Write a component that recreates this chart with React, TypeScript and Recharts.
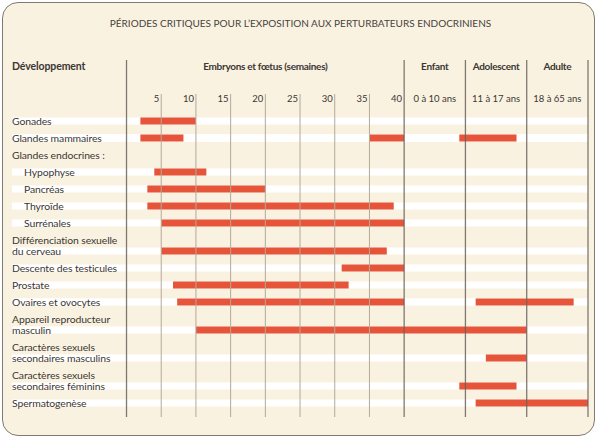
import { BarChart, Bar, XAxis, YAxis, ReferenceLine } from 'recharts'

const TITRE = 'PÉRIODES CRITIQUES POUR L’EXPOSITION AUX PERTURBATEURS ENDOCRINIENS'

// libellés des lignes (\n = retour à la ligne dans le libellé)
const organes = [
  'Gonades',
  'Glandes mammaires',
  'Glandes endocrines :',
  'Hypophyse',
  'Pancréas',
  'Thyroïde',
  'Surrénales',
  'Différenciation sexuelle\ndu cerveau',
  'Descente des testicules',
  'Prostate',
  'Ovaires et ovocytes',
  'Appareil reproducteur\nmasculin',
  'Caractères sexuels\nsecondaires masculins',
  'Caractères sexuels\nsecondaires féminins',
  'Spermatogenèse',
]
const sousRubriques = ['Hypophyse', 'Pancréas', 'Thyroïde', 'Surrénales']

const semaines = [5, 10, 15, 20, 25, 30, 35, 40]

const periodes = ['Enfant', 'Adolescent', 'Adulte']
const periodesAges = ['0 à 10 ans', '11 à 17 ans', '18 à 65 ans']
const periodesBornes: [number, number][] = [[0, 10], [11, 17], [18, 65]]

// [organe, début, fin] ; 's' = semaines de grossesse, sinon âge en années dans la période
type Point = [string, number]
const segments: [string, Point, Point][] = [
  ['Gonades', ['s', 2], ['s', 10]],
  ['Glandes mammaires', ['s', 2], ['s', 8.2]],
  ['Glandes mammaires', ['s', 35], ['s', 40]],
  ['Glandes mammaires', ['Enfant', 9], ['Adolescent', 16]],
  ['Hypophyse', ['s', 4], ['s', 11.5]],
  ['Pancréas', ['s', 3], ['s', 20]],
  ['Thyroïde', ['s', 3], ['s', 38.5]],
  ['Surrénales', ['s', 5], ['s', 40]],
  ['Différenciation sexuelle\ndu cerveau', ['s', 5], ['s', 37.5]],
  ['Descente des testicules', ['s', 31], ['s', 40]],
  ['Prostate', ['s', 6.7], ['s', 32]],
  ['Ovaires et ovocytes', ['s', 7.3], ['s', 40]],
  ['Ovaires et ovocytes', ['Adolescent', 12], ['Adulte', 54]],
  ['Appareil reproducteur\nmasculin', ['s', 10], ['Adolescent', 17]],
  ['Caractères sexuels\nsecondaires masculins', ['Adolescent', 13], ['Adolescent', 17]],
  ['Caractères sexuels\nsecondaires féminins', ['Enfant', 9], ['Adolescent', 16]],
  ['Spermatogenèse', ['Adolescent', 12], ['Adulte', 65]],
]

const BEIGE = '#FAF2E1'
const ORANGE = '#E6553A'
const TEXTE = '#3b3733'
const TRAIT = '#6a635a'
const GRILLE = '#b3a999'
const FONT = 'Lato, "Open Sans", sans-serif'

// axe horizontal : 0-40 = semaines, puis trois colonnes de largeur égale
const COL = 8.83
const X_MIN = -16.5
const X_MAX = 40 + 3 * COL
// axe vertical : 1 = une ligne de tableau, LIGNE = ligne de texte supplémentaire
const LIGNE = 11 / 17
const Y_HAUT = -3.59
const Y_BAS = 17.41
const Y_GRILLE = -1.59

const toAxis = ([periode, v]: Point) => {
  if (periode === 's') return v
  const i = periodes.indexOf(periode)
  const [a, b] = periodesBornes[i]
  return 40 + i * COL + ((v - a) / (b - a)) * COL
}

let cumul = 0
const lignes = organes.map((label, i) => {
  const n = label.split('\n').length
  if (i > 0) cumul += 1 + (n - 1) * LIGNE
  return { label, pos: cumul, sub: sousRubriques.includes(label) }
})

const barres = segments.map(([organe, de, a]) => ({
  organe,
  pos: lignes.find((l) => l.label === organe)!.pos,
  range: [toAxis(de), toAxis(a)],
}))

const CENTRE_EMBRYON = 20
const centresPeriodes = periodes.map((_, i) => 40 + (i + 0.5) * COL)
const xTicks = [...new Set([...semaines, CENTRE_EMBRYON, ...centresPeriodes])].sort((a, b) => a - b)
const separateurs = [0, 40, 40 + COL, 40 + 2 * COL, X_MAX]

function RowLabel({ x, y, payload }: any) {
  const row = lignes.find((l) => Math.abs(l.pos - payload.value) < 1e-6)
  if (!row) return null
  const parts = row.label.split('\n')
  const tx = x + (row.sub ? 12 : 0)
  return (
    <text fontFamily={FONT} fontSize={10.4} fill={TEXTE} letterSpacing={-0.1}>
      {parts.map((p, i) => (
        <tspan key={i} x={tx} y={y - (parts.length - 1 - i) * 11} dy="0.35em">
          {p}
        </tspan>
      ))}
    </text>
  )
}

function HeaderTick({ x, y, payload }: any) {
  const v = payload.value
  const out: any[] = []
  const bold = { fontFamily: FONT, fontSize: 10, fontWeight: 700, fill: TEXTE, letterSpacing: -0.3 }
  const small = { fontFamily: FONT, fontSize: 9.5, fill: TEXTE }
  if (semaines.includes(v)) {
    out.push(<text key="s" x={x - 2} y={y + 39} dy="0.35em" textAnchor="end" {...small}>{v}</text>)
  }
  if (v === CENTRE_EMBRYON) {
    out.push(<text key="e" x={x} y={y + 6} dy="0.35em" textAnchor="middle" {...bold}>Embryons et fœtus (semaines)</text>)
  }
  const p = centresPeriodes.findIndex((c) => Math.abs(c - v) < 1e-6)
  if (p >= 0) {
    out.push(<text key="p" x={x} y={y + 6} dy="0.35em" textAnchor="middle" {...bold}>{periodes[p]}</text>)
    out.push(<text key="a" x={x} y={y + 39} dy="0.35em" textAnchor="middle" {...small}>{periodesAges[p]}</text>)
  }
  return <g>{out}</g>
}

export default function App() {
  return (
    <div style={{ position: 'absolute', left: 0, top: 0, width: 601, height: 439 }}>
      <div
        style={{
          position: 'absolute', left: 2, top: 2, width: 591, height: 432,
          border: '1.5px solid #7f7a72', borderRadius: 16, background: BEIGE,
        }}
      />
      <div
        style={{
          position: 'absolute', left: 0, top: 17, width: 601, textAlign: 'center',
          fontFamily: FONT, fontSize: 10, letterSpacing: 0, color: '#47423d', lineHeight: '12px',
        }}
      >
        {TITRE}
      </div>
      <div
        style={{
          position: 'absolute', left: 12, top: 60, fontFamily: FONT, fontSize: 10.5,
          fontWeight: 700, color: TEXTE, lineHeight: '12px', letterSpacing: -0.1,
        }}
      >
        Développement
      </div>
      <div style={{ position: 'absolute', left: 0, top: 0 }}>
        <BarChart
          width={601}
          height={439}
          data={barres}
          layout="vertical"
          margin={{ top: 60, right: 13, bottom: 22, left: 12 }}
        >
          <XAxis
            type="number"
            orientation="top"
            mirror
            domain={[X_MIN, X_MAX]}
            allowDataOverflow
            ticks={xTicks}
            interval={0}
            axisLine={false}
            tickLine={false}
            tickSize={0}
            tickMargin={0}
            tick={<HeaderTick />}
          />
          <YAxis
            type="number"
            dataKey="pos"
            mirror
            domain={[Y_HAUT, Y_BAS]}
            allowDataOverflow
            ticks={lignes.map((l) => l.pos)}
            interval={0}
            axisLine={false}
            tickLine={false}
            tickSize={0}
            tickMargin={0}
            tick={<RowLabel />}
          />
          <Bar
            dataKey="range"
            fill={ORANGE}
            barSize={7}
            background={{ fill: '#ffffff' }}
            isAnimationActive={false}
          />
          {semaines.filter((s) => s < 40).map((s) => (
            <ReferenceLine
              key={s}
              segment={[{ x: s, y: Y_GRILLE }, { x: s, y: Y_BAS }]}
              stroke={GRILLE}
              strokeWidth={1}
              zIndex={600}
            />
          ))}
          {separateurs.map((s) => (
            <ReferenceLine key={'sep' + s} x={s} stroke={TRAIT} strokeWidth={1.3} strokeOpacity={0.85} zIndex={600} />
          ))}
        </BarChart>
      </div>
    </div>
  )
}
